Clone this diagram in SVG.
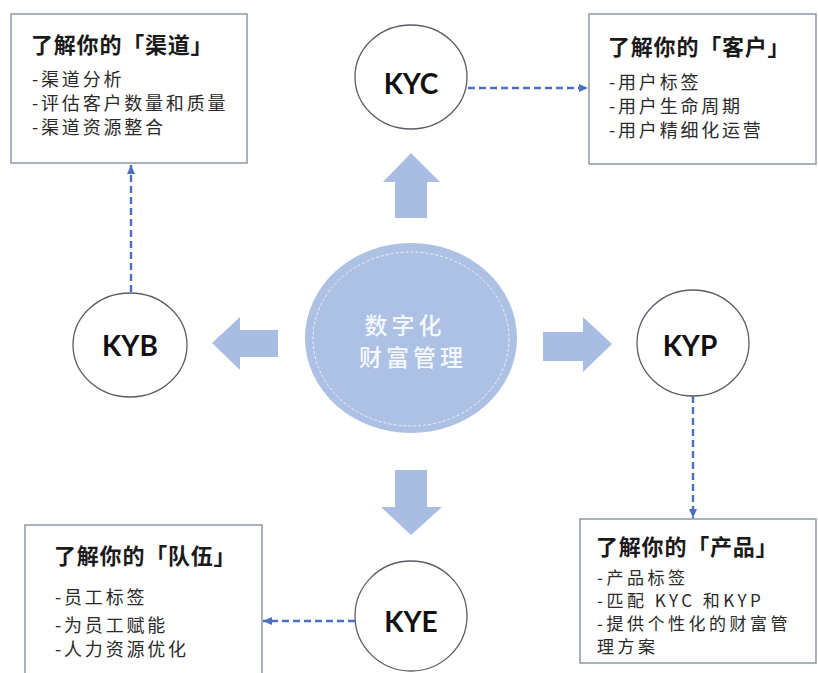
<svg xmlns="http://www.w3.org/2000/svg" width="818" height="673" viewBox="0 0 818 673">
  <style>
    .box { fill: #ffffff; stroke: #8e96a8; stroke-width: 1.5; }
    .node { fill: #ffffff; stroke: #5a5d66; stroke-width: 1.3; }
    .lbl { font-family: "Lato", "Liberation Sans", sans-serif; font-weight: bold; font-size: 28px; fill: #111111; text-anchor: middle; }
    .ttl { font-family: "Noto Sans CJK SC", sans-serif; font-weight: bold; font-size: 22px; fill: #1a1a1a; letter-spacing: 0.8px; }
    .itm { font-family: "Noto Sans CJK SC", sans-serif; font-size: 18px; fill: #2a2a2a; letter-spacing: 2.8px; }
    .itm2 { font-family: "Noto Sans CJK SC", sans-serif; font-size: 17px; fill: #2a2a2a; letter-spacing: 3.5px; }
    .big { fill: #a9bde2; }
    .conn { fill: none; stroke: #4a6fc0; stroke-width: 2.4; stroke-dasharray: 7 4; }
    .ctr { font-family: "Noto Sans CJK SC", sans-serif; font-size: 23px; fill: #f5f8fd; text-anchor: middle; letter-spacing: 4px; font-weight: 500; }
  </style>
  <defs>
    <marker id="ah" markerUnits="userSpaceOnUse" markerWidth="10" markerHeight="10" viewBox="0 0 10 10" refX="9" refY="5" orient="auto">
      <path d="M0,1 L9,5 L0,9 Z" fill="#4a6fc0"/>
    </marker>
  </defs>
  <rect width="818" height="673" fill="#ffffff"/>

  <!-- Center -->
  <g id="center">
    <ellipse cx="411" cy="338" rx="106" ry="95" fill="#adc1e5"/>
    <ellipse cx="411" cy="339" rx="98" ry="87" fill="none" stroke="#eef2fa" stroke-width="1" stroke-dasharray="3 2"/>
    <text class="ctr" x="405" y="334">数字化</text>
    <text class="ctr" x="413" y="366">财富管理</text>
  </g>

  <!-- Big block arrows -->
  <g id="big-arrows">
    <path class="big" d="M411,153 L440,182 L427,182 L427,218 L395,218 L395,182 L383,182 Z"/>
    <path class="big" d="M212,343 L240,317 L240,330 L278,330 L278,357 L240,357 L240,370 Z"/>
    <path class="big" d="M612,344 L583,317 L583,332 L543,332 L543,361 L583,361 L583,372 Z"/>
    <path class="big" d="M411,535 L442,507 L427,507 L427,470 L395,470 L395,507 L381,507 Z"/>
  </g>

  <!-- Connectors -->
  <g id="connectors">
    <line class="conn" x1="131" y1="292" x2="131" y2="165" marker-end="url(#ah)"/>
    <line class="conn" x1="468" y1="88" x2="588" y2="88" marker-end="url(#ah)"/>
    <line class="conn" x1="693" y1="396" x2="693" y2="518" marker-end="url(#ah)"/>
    <line class="conn" x1="355" y1="621" x2="263" y2="621" marker-end="url(#ah)"/>
  </g>

  <!-- Circle nodes -->
  <g id="KYC">
    <ellipse class="node" cx="411" cy="77" rx="56" ry="52"/>
    <text class="lbl" x="411" y="94">KYC</text>
  </g>
  <g id="KYB">
    <ellipse class="node" cx="130" cy="345" rx="57" ry="52"/>
    <text class="lbl" x="130" y="356">KYB</text>
  </g>
  <g id="KYP">
    <ellipse class="node" cx="693" cy="343" rx="56" ry="53"/>
    <text class="lbl" x="690" y="356">KYP</text>
  </g>
  <g id="KYE">
    <ellipse class="node" cx="411" cy="616" rx="56" ry="55"/>
    <text class="lbl" x="411" y="632">KYE</text>
  </g>

  <!-- Boxes -->
  <g id="box-channel">
    <rect class="box" x="11" y="14" width="236" height="149"/>
    <text class="ttl" x="31" y="53">了解你的「渠道」</text>
    <text class="itm" x="32" y="86">-渠道分析</text>
    <text class="itm" x="32" y="110">-评估客户数量和质量</text>
    <text class="itm" x="32" y="134">-渠道资源整合</text>
  </g>
  <g id="box-customer">
    <rect class="box" x="589" y="14" width="227" height="150"/>
    <text class="ttl" x="608" y="55">了解你的「客户」</text>
    <text class="itm" x="609" y="89">-用户标签</text>
    <text class="itm" x="609" y="113">-用户生命周期</text>
    <text class="itm" x="609" y="137">-用户精细化运营</text>
  </g>
  <g id="box-product">
    <rect class="box" x="580" y="519" width="236" height="144"/>
    <text class="ttl" x="596" y="555">了解你的「产品」</text>
    <text class="itm2" x="597" y="584">-产品标签</text>
    <text class="itm2" x="597" y="607">-匹配 KYC 和KYP</text>
    <text class="itm2" x="597" y="630">-提供个性化的财富管</text>
    <text class="itm2" x="597" y="653">理方案</text>
  </g>
  <g id="box-team">
    <rect class="box" x="25" y="525" width="237" height="160"/>
    <text class="ttl" x="54" y="564">了解你的「队伍」</text>
    <text class="itm" x="55" y="604">-员工标签</text>
    <text class="itm" x="55" y="632">-为员工赋能</text>
    <text class="itm" x="55" y="656">-人力资源优化</text>
  </g>
</svg>
